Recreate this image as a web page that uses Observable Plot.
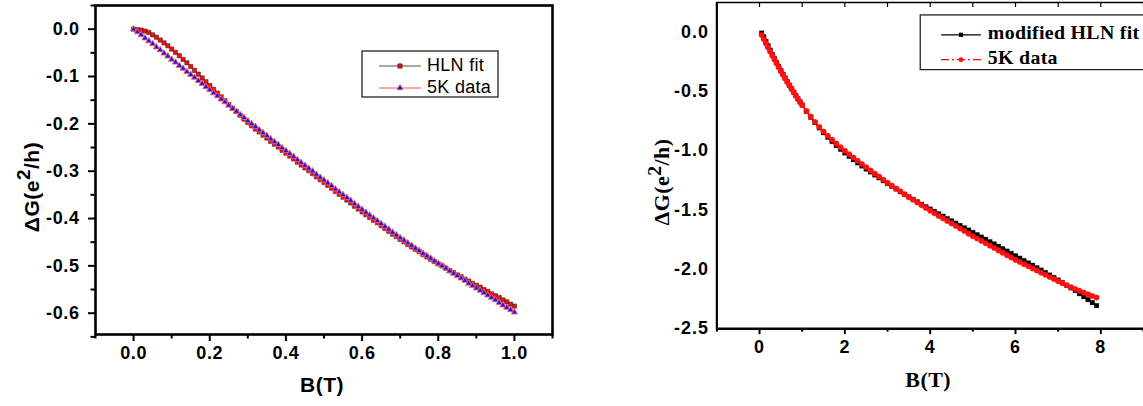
<!DOCTYPE html>
<html><head><meta charset="utf-8">
<script src="https://cdn.jsdelivr.net/npm/d3@7"></script>
<script src="https://cdn.jsdelivr.net/npm/@observablehq/plot@0.6"></script>
<style>
html,body{margin:0;padding:0;background:#fff;overflow:hidden}
#wrap{position:relative;width:1143px;height:406px;overflow:hidden;background:#fff}
#left{position:absolute;left:0;top:0}
#right{position:absolute;left:600px;top:0}
</style></head><body><div id="wrap"><div id="left"></div><div id="right"></div></div>
<script>
// ---------- Left panel data (B in T, ΔG in e²/h) ----------
const bLeft = [0,0.01,0.02,0.03,0.04,0.05,0.06,0.07,0.08,0.09,0.10,0.11,0.12,0.13,0.14,0.15,0.16,0.17,0.18,0.19,0.20,0.21,0.22,0.23,0.24,0.25,0.26,0.27,0.28,0.29,0.30,0.31,0.32,0.33,0.34,0.35,0.36,0.37,0.38,0.39,0.40,0.41,0.42,0.43,0.44,0.45,0.46,0.47,0.48,0.49,0.50,0.51,0.52,0.53,0.54,0.55,0.56,0.57,0.58,0.59,0.60,0.61,0.62,0.63,0.64,0.65,0.66,0.67,0.68,0.69,0.70,0.71,0.72,0.73,0.74,0.75,0.76,0.77,0.78,0.79,0.80,0.81,0.82,0.83,0.84,0.85,0.86,0.87,0.88,0.89,0.90,0.91,0.92,0.93,0.94,0.95,0.96,0.97,0.98,0.99,1.00];
const hlnFit = [0,-0.001,-0.002,-0.004,-0.007,-0.012,-0.017,-0.023,-0.029,-0.035,-0.042,-0.049,-0.056,-0.064,-0.071,-0.079,-0.087,-0.095,-0.103,-0.111,-0.119,-0.127,-0.135,-0.143,-0.151,-0.159,-0.167,-0.174,-0.182,-0.190,-0.197,-0.204,-0.211,-0.217,-0.224,-0.230,-0.237,-0.243,-0.249,-0.256,-0.262,-0.268,-0.274,-0.281,-0.287,-0.293,-0.299,-0.305,-0.312,-0.318,-0.324,-0.330,-0.336,-0.343,-0.349,-0.355,-0.361,-0.367,-0.374,-0.380,-0.386,-0.392,-0.398,-0.404,-0.409,-0.415,-0.421,-0.427,-0.433,-0.438,-0.444,-0.449,-0.455,-0.460,-0.465,-0.470,-0.476,-0.481,-0.486,-0.491,-0.496,-0.500,-0.505,-0.510,-0.514,-0.519,-0.523,-0.528,-0.532,-0.537,-0.541,-0.545,-0.550,-0.554,-0.559,-0.563,-0.567,-0.572,-0.576,-0.581,-0.585];
const data5KLeft = [0,-0.006,-0.012,-0.019,-0.025,-0.031,-0.038,-0.044,-0.051,-0.057,-0.064,-0.070,-0.077,-0.083,-0.090,-0.096,-0.102,-0.109,-0.115,-0.122,-0.128,-0.135,-0.141,-0.148,-0.154,-0.161,-0.168,-0.174,-0.181,-0.187,-0.194,-0.200,-0.206,-0.213,-0.219,-0.225,-0.232,-0.238,-0.244,-0.251,-0.257,-0.263,-0.269,-0.276,-0.282,-0.288,-0.294,-0.300,-0.307,-0.313,-0.319,-0.325,-0.331,-0.338,-0.344,-0.350,-0.356,-0.362,-0.369,-0.375,-0.381,-0.387,-0.393,-0.399,-0.405,-0.411,-0.417,-0.423,-0.429,-0.435,-0.441,-0.446,-0.452,-0.457,-0.463,-0.468,-0.474,-0.479,-0.484,-0.490,-0.495,-0.500,-0.505,-0.511,-0.516,-0.521,-0.526,-0.531,-0.537,-0.542,-0.547,-0.552,-0.557,-0.562,-0.567,-0.572,-0.578,-0.583,-0.588,-0.593,-0.598];
const xTicksLeft = [0,0.2,0.4,0.6,0.8,1.0];
const xMinorLeft = [-0.1,0.1,0.3,0.5,0.7,0.9,1.1];
const yTicksLeft = [0,-0.1,-0.2,-0.3,-0.4,-0.5,-0.6];
const yMinorLeft = [0.05,-0.05,-0.15,-0.25,-0.35,-0.45,-0.55,-0.65];
const legendLeft = ["HLN fit","5K data"];

// ---------- Right panel data ----------
const bRight = [0.05,0.10,0.15,0.20,0.25,0.30,0.35,0.40,0.45,0.50,0.55,0.60,0.65,0.70,0.75,0.80,0.85,0.90,0.95,1.00,1.1,1.2,1.3,1.4,1.5,1.6,1.7,1.8,1.9,2.0,2.1,2.2,2.3,2.4,2.5,2.6,2.7,2.8,2.9,3.0,3.1,3.2,3.3,3.4,3.5,3.6,3.7,3.8,3.9,4.0,4.1,4.2,4.3,4.4,4.5,4.6,4.7,4.8,4.9,5.0,5.1,5.2,5.3,5.4,5.5,5.6,5.7,5.8,5.9,6.0,6.1,6.2,6.3,6.4,6.5,6.6,6.7,6.8,6.9,7.0,7.1,7.2,7.3,7.4,7.5,7.6,7.7,7.8,7.9];
const modHlnFit = [-0.008,-0.040,-0.078,-0.115,-0.152,-0.188,-0.223,-0.257,-0.290,-0.323,-0.355,-0.386,-0.417,-0.447,-0.477,-0.506,-0.534,-0.562,-0.589,-0.615,-0.668,-0.717,-0.763,-0.807,-0.848,-0.886,-0.922,-0.956,-0.988,-1.018,-1.047,-1.075,-1.102,-1.128,-1.154,-1.179,-1.204,-1.228,-1.252,-1.276,-1.299,-1.322,-1.345,-1.367,-1.389,-1.410,-1.431,-1.452,-1.472,-1.492,-1.512,-1.532,-1.552,-1.572,-1.591,-1.611,-1.630,-1.650,-1.669,-1.689,-1.708,-1.728,-1.747,-1.767,-1.786,-1.806,-1.826,-1.846,-1.866,-1.886,-1.906,-1.926,-1.946,-1.966,-1.986,-2.006,-2.027,-2.048,-2.069,-2.090,-2.112,-2.134,-2.156,-2.178,-2.205,-2.230,-2.255,-2.280,-2.305];
const data5KRight = [-0.025,-0.060,-0.095,-0.130,-0.165,-0.198,-0.232,-0.265,-0.297,-0.329,-0.360,-0.391,-0.421,-0.451,-0.480,-0.508,-0.536,-0.563,-0.589,-0.615,-0.665,-0.712,-0.757,-0.799,-0.838,-0.874,-0.908,-0.940,-0.971,-1.000,-1.029,-1.057,-1.085,-1.112,-1.139,-1.166,-1.192,-1.218,-1.244,-1.270,-1.294,-1.318,-1.342,-1.366,-1.390,-1.413,-1.436,-1.459,-1.482,-1.505,-1.527,-1.549,-1.570,-1.592,-1.613,-1.635,-1.656,-1.677,-1.699,-1.720,-1.740,-1.760,-1.780,-1.800,-1.820,-1.840,-1.860,-1.880,-1.900,-1.920,-1.938,-1.956,-1.974,-1.992,-2.010,-2.028,-2.046,-2.064,-2.082,-2.100,-2.117,-2.134,-2.150,-2.166,-2.181,-2.196,-2.210,-2.224,-2.238];
const xTicksRight = [0,2,4,6,8];
const xMinorRight = [-1,1,3,5,7,9];
const xTopRight = [-1,0,1,2,3,4,5,6,7,8,9];
const yTicksRight = [0,-0.5,-1.0,-1.5,-2.0,-2.5];
const legendRight = ["modified HLN fit","5K data"];

const sans = "'Liberation Sans', Arial, sans-serif";
const serif = "'Liberation Serif', 'Times New Roman', serif";

const rowsHln = bLeft.map((b,i)=>({b, g: hlnFit[i]}));
const rows5KL = bLeft.map((b,i)=>({b, g: data5KLeft[i]}));
const rowsMod = bRight.map((b,i)=>({b, g: modHlnFit[i]}));
const rows5KR = bRight.map((b,i)=>({b, g: data5KRight[i]}));

const fmt1 = d => d.toFixed(1);
const blank = () => "";
const tickText = {fontSize: 18, fontWeight: "bold"};

// ---------- Left plot ----------
const leftPlot = Plot.plot({
  width: 560, height: 406,
  marginLeft: 95, marginRight: 8, marginTop: 5, marginBottom: 72,
  x: {domain: [-0.1, 1.1]},
  y: {domain: [-0.645, 0.05]},
  style: {fontFamily: sans, fontSize: "18px", fontWeight: "bold", background: "white", color: "black", overflow: "visible", letterSpacing: "0.6px"},
  marks: [
    Plot.axisX(xTicksLeft, {tickSize: 7, tickPadding: 5, tickFormat: fmt1, label: null, strokeWidth: 2, ...tickText}),
    Plot.axisX(xMinorLeft, {tickSize: 4.5, tickFormat: blank, label: null, strokeWidth: 2}),
    Plot.axisY(yTicksLeft, {tickSize: 7, tickPadding: 9, tickFormat: fmt1, label: null, strokeWidth: 2, ...tickText}),
    Plot.axisY(yMinorLeft, {tickSize: 4.5, tickFormat: blank, label: null, strokeWidth: 2}),
    Plot.line(rowsHln, {x: "b", y: "g", stroke: "#333", strokeWidth: 1}),
    Plot.dot(rowsHln, {x: "b", y: "g", symbol: "square", r: 2.4, fill: "#f01010", stroke: "#3a2020", strokeWidth: 0.55}),
    Plot.line(rows5KL, {x: "b", y: "g", stroke: "#ff3030", strokeWidth: 1}),
    Plot.dot(rows5KL, {x: "b", y: "g", symbol: "triangle", r: 2.3, fill: "#1a1ae6", stroke: "#ff6060", strokeWidth: 0.9}),
    Plot.frame({stroke: "black", strokeWidth: 2.6})
  ]
});
document.getElementById("left").appendChild(leftPlot);

// ---------- Right plot ----------
const rightPlot = Plot.plot({
  width: 546, height: 406,
  marginLeft: 117, marginRight: 0, marginTop: 2, marginBottom: 76,
  x: {domain: [-1, 9]},
  y: {domain: [-2.5, 0.25]},
  style: {fontFamily: sans, fontSize: "18px", fontWeight: "bold", background: "white", color: "black", overflow: "visible", letterSpacing: "1px"},
  marks: [
    Plot.axisX(xTicksRight, {tickSize: 6, tickPadding: 6, tickFormat: d => String(d), label: null, strokeWidth: 2, ...tickText}),
    Plot.axisX(xMinorRight, {tickSize: 3.5, tickFormat: blank, label: null, strokeWidth: 2}),
    Plot.axisX(xTopRight, {anchor: "top", tickSize: -4, tickFormat: blank, label: null, strokeWidth: 1.2}),
    Plot.axisY(yTicksRight, {tickSize: 0, tickPadding: 8, tickFormat: fmt1, label: null, ...tickText}),
    Plot.line(rowsMod, {x: "b", y: "g", stroke: "black", strokeWidth: 1.2}),
    Plot.dot(rowsMod, {x: "b", y: "g", symbol: "square", r: 2.6, fill: "black", stroke: "black", strokeWidth: 0.3}),
    Plot.line(rows5KR, {x: "b", y: "g", stroke: "#ff0000", strokeWidth: 1.2, strokeDasharray: "8,3,2,3"}),
    Plot.dot(rows5KR, {x: "b", y: "g", r: 2.8, fill: "#ff1010", stroke: "#ff1010", strokeWidth: 0.3}),
    Plot.ruleX([-1], {y1: -2.5, y2: 0.25, stroke: "black", strokeWidth: 2.2}),
    Plot.ruleY([-2.5], {stroke: "black", strokeWidth: 2.6}),
    Plot.ruleY([0.25], {stroke: "black", strokeWidth: 1.4})
  ]
});
document.getElementById("right").appendChild(rightPlot);

// ---------- Titles and legends ----------
function yTitle(svg, x, y, family, size, shift) {
  const t = d3.select(svg).append("text")
    .attr("transform", `translate(${x},${y}) rotate(-90)`)
    .attr("text-anchor", "middle").attr("dominant-baseline", "middle")
    .style("font-family", family).style("font-size", size + "px").style("font-weight", "bold")
    .style("letter-spacing", "0.5px").attr("fill", "black");
  t.append("tspan").text("ΔG(e");
  t.append("tspan").text("2").attr("dy", -shift).style("font-size", (size*0.9) + "px");
  t.append("tspan").text("/h)").attr("dy", shift);
}
function xTitle(svg, x, y, family, size) {
  d3.select(svg).append("text").attr("x", x).attr("y", y)
    .attr("text-anchor", "middle").attr("dominant-baseline", "middle")
    .style("font-family", family).style("font-size", size + "px").style("font-weight", "bold")
    .style("letter-spacing", "0.5px").attr("fill", "black")
    .text("B(T)");
}
yTitle(leftPlot, 33, 187, sans, 21, 8);
xTitle(leftPlot, 322, 386, sans, 21);
yTitle(rightPlot, 64, 183, serif, 22, 8);
xTitle(rightPlot, 330, 384, serif, 22);

// Left legend
{
  const g = d3.select(leftPlot).append("g");
  g.append("rect").attr("x", 362).attr("y", 51).attr("width", 136).attr("height", 46)
    .attr("fill", "white").attr("stroke", "#222").attr("stroke-width", 1.3);
  const rows = [
    {y: 66, stroke: "#555", sym: d3.symbolSquare, size: Math.PI*2.4*2.4, fill: "#f01010", edge: "#3a2020"},
    {y: 88, stroke: "#ff5050", sym: d3.symbolTriangle, size: Math.PI*2.3*2.3, fill: "#1a1ae6", edge: "#ff6060"}
  ];
  rows.forEach((r, i) => {
    g.append("line").attr("x1", 379).attr("x2", 421).attr("y1", r.y).attr("y2", r.y).attr("stroke", r.stroke).attr("stroke-width", 1.2);
    g.append("path").attr("d", d3.symbol(r.sym, r.size)()).attr("transform", `translate(400,${r.y})`)
      .attr("fill", r.fill).attr("stroke", r.edge).attr("stroke-width", 0.7);
    g.append("text").attr("x", 427).attr("y", r.y).attr("text-anchor", "start").attr("dominant-baseline", "middle")
      .style("font-family", sans).style("font-size", "18px").style("font-weight", "normal").style("letter-spacing", "0.3px").attr("fill", "black")
      .text(legendLeft[i]);
  });
}
// Right legend
{
  const g = d3.select(rightPlot).append("g");
  g.append("rect").attr("x", 322).attr("y", 15).attr("width", 260).attr("height", 55)
    .attr("fill", "white").attr("stroke", "#222").attr("stroke-width", 1.3);
  const rows = [
    {y: 35, stroke: "black", dash: null, sym: d3.symbolSquare, fill: "black"},
    {y: 60, stroke: "#ff0000", dash: "8,3,2,3", sym: d3.symbolCircle, fill: "#ff1010"}
  ];
  rows.forEach((r, i) => {
    g.append("line").attr("x1", 343).attr("x2", 383).attr("y1", r.y).attr("y2", r.y).attr("stroke", r.stroke)
      .attr("stroke-width", 1.3).attr("stroke-dasharray", r.dash);
    g.append("path").attr("d", d3.symbol(r.sym, Math.PI*2.4*2.4)()).attr("transform", `translate(363,${r.y})`)
      .attr("fill", r.fill);
    g.append("text").attr("x", 390).attr("y", r.y).attr("text-anchor", "start").attr("dominant-baseline", "middle")
      .style("font-family", serif).style("font-size", "20px").style("font-weight", "bold").style("letter-spacing", "0.3px").attr("fill", "black")
      .text(legendRight[i]);
  });
}
</script></body></html>
